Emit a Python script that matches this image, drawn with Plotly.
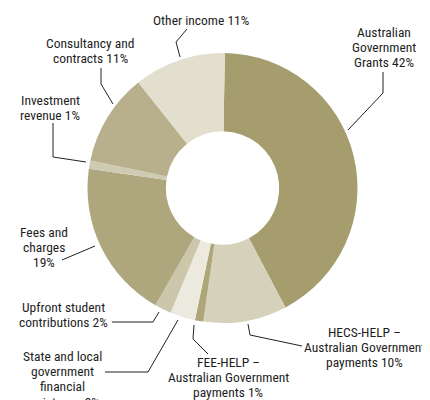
import plotly.graph_objects as go

# ---- data ----
categories = [
    "Australian Government Grants",
    "HECS-HELP – Australian Government payments",
    "FEE-HELP – Australian Government payments",
    "State and local government financial assistance",
    "Upfront student contributions",
    "Fees and charges",
    "Investment revenue",
    "Consultancy and contracts",
    "Other income",
]
values = [42, 10, 1, 3, 2, 19, 1, 11, 11]
label_lines = [
    ["Australian", "Government", "Grants 42%"],
    ["HECS-HELP –", "Australian Government", "payments 10%"],
    ["FEE-HELP –", "Australian Government", "payments 1%"],
    ["State and local", "government", "financial", "assistance 3%"],
    ["Upfront student", "contributions 2%"],
    ["Fees and", "charges", "19%"],
    ["Investment", "revenue 1%"],
    ["Consultancy and", "contracts 11%"],
    ["Other income 11%"],
]
colors = ["#a59d6d", "#d6d1bb", "#ada679", "#eceadf", "#ccc7ab",
          "#aea77d", "#cfcbb2", "#b8b08c", "#e3dfce"]

# ---- layout helpers (screen pixel positions of labels and leader lines) ----
W, H = 430, 400
OFF = 8  # page body margin
LINE_H = 15.2
# (center x, y of first line)
label_pos = [(384, 32), (364, 332), (228, 362), (62, 356), (63, 307),
             (44, 232), (50, 100), (90, 43), (201, 20)]
leaders = [
    [(383, 72), (383, 93), (348, 130)],
    [(302, 346), (250, 335), (248, 324)],
    [(208, 354), (193, 339), (194, 325)],
    [(105, 372), (148, 372), (178, 320)],
    [(112, 322), (153, 322), (159, 312)],
    [(62, 260), (95, 246)],
    [(53, 123), (53, 157), (86, 162)],
    [(101, 68), (101, 84), (113, 104)],
    [(187, 29), (176, 42), (180, 57)],
]

def px(x, y):
    return (x - OFF) / W, 1 - (y - OFF) / H

cx, cy, r = 222.5, 188, 135
x0, y0 = px(cx - r, cy + r)
x1, y1 = px(cx + r, cy - r)

fig = go.Figure(go.Pie(
    labels=categories,
    values=values,
    marker=dict(colors=colors, line=dict(width=0)),
    hole=0.42,
    sort=False,
    direction="clockwise",
    rotation=1,
    textinfo="none",
    hoverinfo="label+percent",
    domain=dict(x=[x0, x1], y=[y0, y1]),
    showlegend=False,
))

font_family = "Roboto Condensed, Liberation Sans Narrow, sans-serif"
annotations = []
for lines, (lx, ly) in zip(label_lines, label_pos):
    for k, line in enumerate(lines):
        ax, ay = px(lx, ly + k * LINE_H)
        annotations.append(dict(
            x=ax, y=ay, xref="paper", yref="paper", text=line, showarrow=False,
            xanchor="center", yanchor="middle", align="center",
            font=dict(family=font_family, size=13.5, color="#1e1e1e"),
        ))

shapes = []
for pts in leaders:
    path = ""
    for i, (x, y) in enumerate(pts):
        X, Y = px(x, y)
        path += ("M" if i == 0 else "L") + f"{X:.4f},{Y:.4f} "
    shapes.append(dict(type="path", path=path.strip(), xref="paper", yref="paper",
                       line=dict(color="#222222", width=1)))

fig.update_layout(
    width=W, height=H,
    margin=dict(l=0, r=0, t=0, b=0),
    paper_bgcolor="white", plot_bgcolor="white",
    annotations=annotations,
    shapes=shapes,
)

fig.write_html("out.html")
